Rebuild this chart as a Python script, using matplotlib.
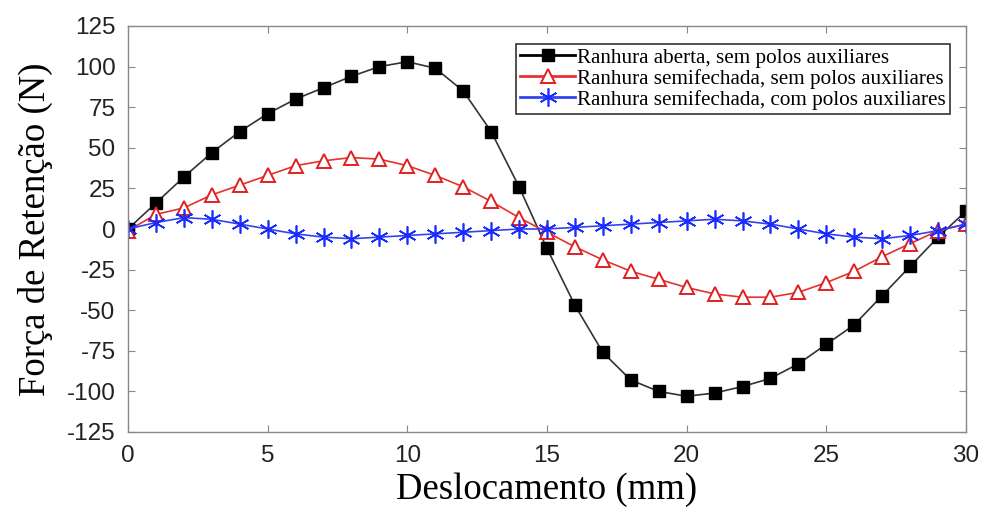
import matplotlib
matplotlib.use("Agg")
import matplotlib.pyplot as plt
from matplotlib.lines import Line2D

plt.rcParams["axes.unicode_minus"] = False

x = list(range(31))
aberta = [0, 16, 32, 47, 60, 71, 80, 87, 94, 100, 103, 99, 85, 60, 26, -12, -47, -76, -93, -100,
          -103, -101, -97, -92, -83, -71, -59, -41, -23, -5, 11]
semi_sem = [-1, 9, 13, 21, 27, 33, 39, 42, 44, 43, 39, 33, 26, 17, 7, -2, -11, -19, -26, -31,
            -36, -40, -42, -42, -39, -33, -26, -17, -9, -1, 3]
semi_com = [0, 4, 7, 6, 3, 0, -3, -5, -6, -5, -4, -3, -2, -1, 0, 0, 1, 2, 3, 4,
            5, 6, 5, 3, 0, -3, -5, -6, -4, -1, 3]
labels = ["Ranhura aberta, sem polos auxiliares",
          "Ranhura semifechada, sem polos auxiliares",
          "Ranhura semifechada, com polos auxiliares"]
yticks = [-125, -100, -75, -50, -25, 0, 25, 50, 75, 100, 125]
xticks = [0, 5, 10, 15, 20, 25, 30]

fig = plt.figure(figsize=(9.86, 5.17), dpi=100)
ax = fig.add_axes([128/986, 1-432/517, (966-128)/986, (432-26)/517])

ax.plot(x, aberta, color="#333333", lw=1.2, marker="s", ms=9, mfc="black", mec="black")
ax.plot(x, semi_sem, color="#e83030", lw=1.2, marker="^", ms=10, mfc="white", mec="#e02020", mew=1.4)
ax.plot(x, semi_com, color="#3344ee", lw=1.2, marker=(6, 2, 0), ms=13, mec="#1a2bff", mew=1.2)

ax.set_xlim(0, 30)
ax.set_ylim(-125, 125)
ax.set_xticks(xticks)
ax.set_yticks(yticks)
ax.tick_params(direction="in", top=True, right=True, length=5, color="#888888", labelsize=17.5,
               labelcolor="#222222")
ax.tick_params(axis="y", pad=9)
ax.tick_params(axis="x", pad=9)
for lab in ax.get_xticklabels() + ax.get_yticklabels():
    lab.set_family("Liberation Sans")
for s in ax.spines.values():
    s.set_color("#888888")
    s.set_linewidth(1.0)

ax.set_xlabel("Deslocamento (mm)", family="Liberation Serif", fontsize=26.5, labelpad=4)
ax.set_ylabel("Força de Retenção (N)", family="Liberation Serif", fontsize=26.5, labelpad=10)

handles = [
    Line2D([], [], color="black", lw=2, marker="s", ms=9, mfc="black", mec="black"),
    Line2D([], [], color="#e83030", lw=2, marker="^", ms=10, mfc="white", mec="#e02020", mew=1.4),
    Line2D([], [], color="#3344ee", lw=2, marker=(6, 2, 0), ms=13, mec="#1a2bff", mew=1.2),
]
leg = ax.legend(handles, labels, loc="upper right", bbox_to_anchor=(0.981, 0.956),
                prop={"family": "Liberation Serif", "size": 15.2}, frameon=True, fancybox=False,
                handlelength=2.6, handletextpad=0.1, borderpad=0.2, labelspacing=0.05,
                borderaxespad=0)
leg.get_frame().set_edgecolor("black")
leg.get_frame().set_linewidth(1.2)

fig.savefig("out.png", dpi=100)
